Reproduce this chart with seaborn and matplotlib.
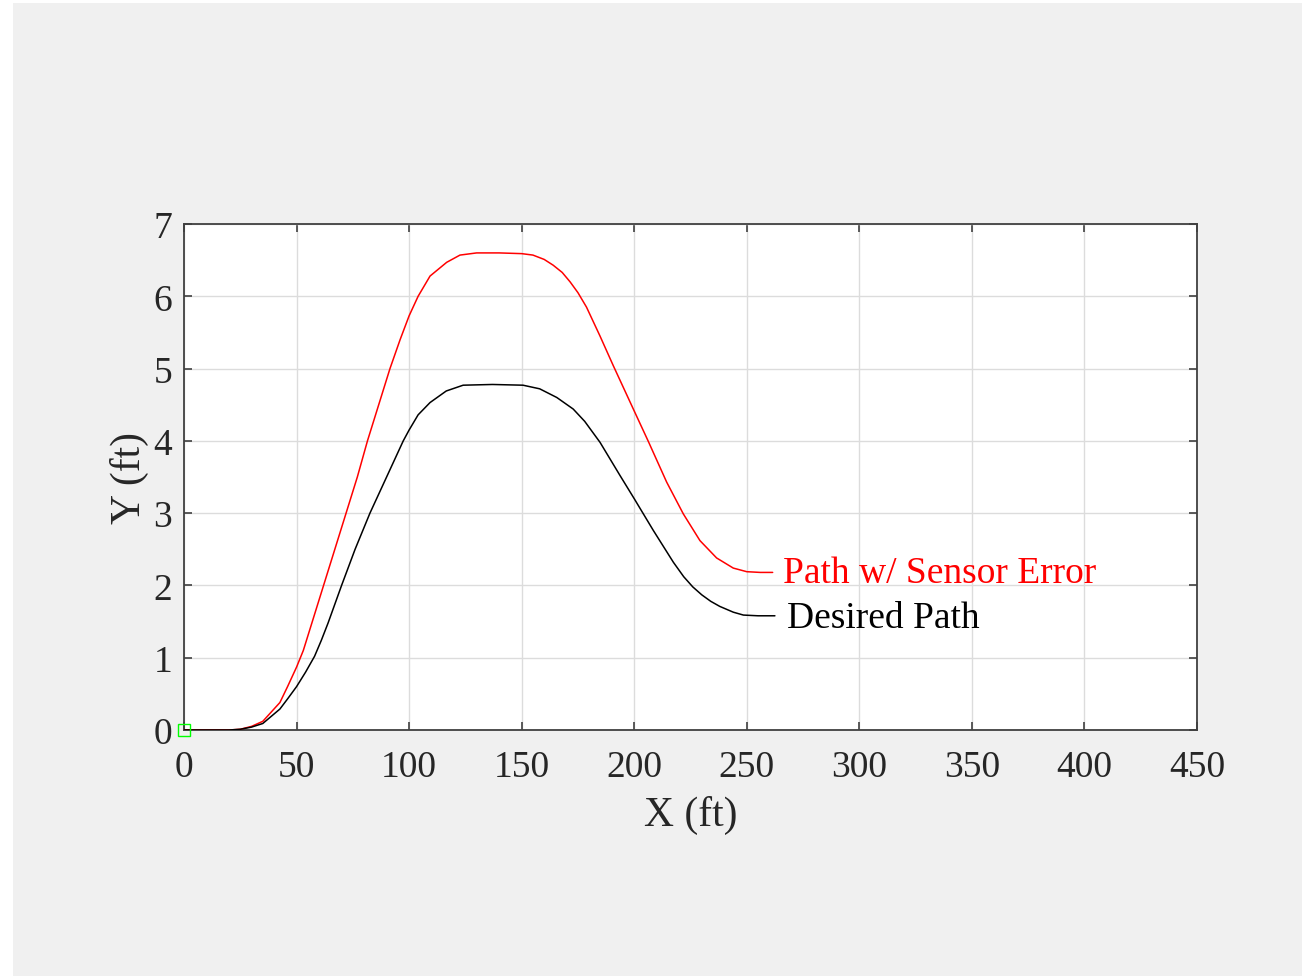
import numpy as np
import pandas as pd
import matplotlib
matplotlib.use("Agg")
import matplotlib.pyplot as plt
from matplotlib.patches import Rectangle
import seaborn as sns

# ---- data ----
desired_x = [0, 10, 20, 25, 30, 35, 42.6, 46, 50, 54, 58, 61, 64, 70, 76, 82.6, 90, 97.4,
             100, 104, 109.3, 116.5, 124, 137, 150.6, 158, 165.6, 172.9, 178, 184.8,
             193.7, 200, 208.5, 217.4, 222, 226, 230, 234, 238, 244, 248.5, 255, 262.5]
desired_y = [0, 0, 0, 0.01, 0.04, 0.09, 0.29, 0.43, 0.6, 0.8, 1.02, 1.24, 1.48, 2.0, 2.5,
             3.0, 3.5, 4.0, 4.15, 4.36, 4.53, 4.69, 4.77, 4.78, 4.77, 4.72, 4.6, 4.44,
             4.27, 3.98, 3.52, 3.2, 2.76, 2.32, 2.12, 1.98, 1.87, 1.78, 1.71, 1.63, 1.59,
             1.58, 1.58]

sensor_x = [0, 10, 20, 25, 30, 35, 42.6, 46, 50, 53, 57, 62, 67, 72, 77, 81.5, 86.5, 91.5,
            96, 100, 104, 109.3, 116.7, 122.6, 130, 140, 150, 155, 160, 164, 168, 171.5,
            175, 178.8, 184.8, 190.7, 199.6, 206.3, 214.4, 221.8, 229.2, 236.6, 244, 250,
            256, 261.5]
sensor_y = [0, 0, 0, 0.01, 0.05, 0.12, 0.38, 0.6, 0.87, 1.1, 1.5, 2.0, 2.5, 3.0, 3.5, 4.0,
            4.5, 5.0, 5.4, 5.73, 6.0, 6.28, 6.47, 6.57, 6.6, 6.6, 6.59, 6.57, 6.51, 6.43,
            6.33, 6.2, 6.05, 5.85, 5.45, 5.04, 4.44, 3.99, 3.43, 2.99, 2.62, 2.38, 2.24,
            2.19, 2.18, 2.18]

label_sensor = "Path w/ Sensor Error"
label_desired = "Desired Path"
x_ticks = [0, 50, 100, 150, 200, 250, 300, 350, 400, 450]
y_ticks = [0, 1, 2, 3, 4, 5, 6, 7]

sns.set_style("ticks")
plt.rcParams["font.family"] = ["Liberation Serif", "DejaVu Serif"]

fig = plt.figure(figsize=(13.02, 9.79), dpi=100)
fig.patch.set_facecolor("white")
bg = Rectangle((13 / 1302, 2 / 979), 1 - 13 / 1302, 1 - 6 / 979,
               transform=fig.transFigure, facecolor="#f0f0f0",
               edgecolor="none", zorder=-10)
fig.patches.append(bg)
ax = fig.add_axes([184 / 1302, 1 - 731 / 979, (1197 - 184) / 1302, (731 - 225) / 979])
ax.set_zorder(1)
ax.set_facecolor("white")

df_s = pd.DataFrame({"x": sensor_x, "y": sensor_y})
df_d = pd.DataFrame({"x": desired_x, "y": desired_y})
sns.lineplot(data=df_s, x="x", y="y", color="#ff0000", lw=1.1, ax=ax, sort=False, zorder=3)
sns.lineplot(data=df_d, x="x", y="y", color="black", lw=1.1, ax=ax, sort=False, zorder=3)
ax.plot([0], [0], marker="s", ms=8, mfc="none", mec="#00ff00", mew=1.0, zorder=4,
        clip_on=False)

ax.text(266, 2.17, label_sensor, color="#ff0000", fontsize=27, va="center", ha="left")
ax.text(268, 1.55, label_desired, color="black", fontsize=27, va="center", ha="left")

ax.set_xlim(0, 450)
ax.set_ylim(0, 7)
ax.set_xticks(x_ticks)
ax.set_yticks(y_ticks)
ax.grid(True, color="#dcdcdc", lw=1.0)
for s in ax.spines.values():
    s.set_color("#404040")
    s.set_linewidth(1.3)
    s.set_visible(True)
ax.tick_params(direction="in", length=6, width=1.2, color="#404040",
               top=True, right=True, labelsize=27, labelcolor="#262626")
ax.tick_params(axis="x", pad=14)
ax.tick_params(axis="y", pad=8.5)
ax.set_xlabel("X (ft)", fontsize=30, color="#262626", labelpad=8)
ax.set_ylabel("Y (ft)", fontsize=30, color="#262626", labelpad=3)

fig.savefig("out.png", dpi=100)
